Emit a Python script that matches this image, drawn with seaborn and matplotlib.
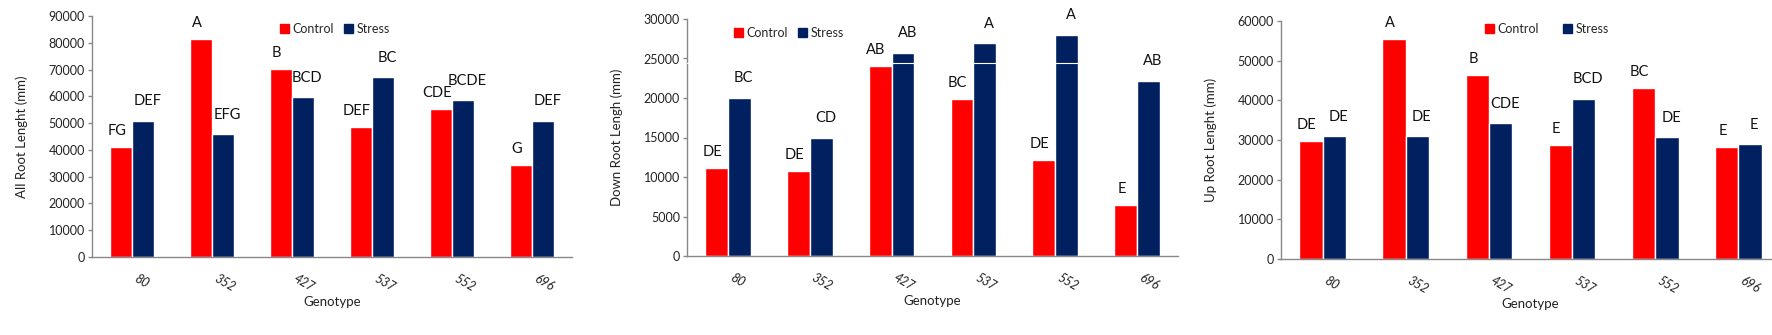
import pandas as pd
import seaborn as sns
import matplotlib.pyplot as plt
from matplotlib.patches import Patch

# genotypes and treatments
genotypes = ['80', '352', '427', '537', '552', '696']
treatments = ['Control', 'Stress']

# All root length (mm)
all_control = [41000, 81300, 70300, 48500, 55400, 34500]
all_stress = [50800, 45800, 59700, 67200, 58600, 50800]
all_let_control = ['FG', 'A', 'B', 'DEF', 'CDE', 'G']
all_let_stress = ['DEF', 'EFG', 'BCD', 'BC', 'BCDE', 'DEF']

# Down root length (mm)
down_control = [11100, 10800, 24000, 19900, 12200, 6400]
down_stress = [20000, 15000, 25700, 26900, 28000, 22200]
down_let_control = ['DE', 'DE', 'AB', 'BC', 'DE', 'E']
down_let_stress = ['BC', 'CD', 'AB', 'A', 'A', 'AB']

# Up root length (mm)
up_control = [29800, 55500, 46400, 28700, 43100, 28200]
up_stress = [30900, 30900, 34200, 40400, 30700, 28900]
up_let_control = ['DE', 'A', 'B', 'E', 'BC', 'E']
up_let_stress = ['DE', 'DE', 'CDE', 'BCD', 'DE', 'E']

colors = {'Control': '#FF0000', 'Stress': '#002060'}

sns.set_style('white')
plt.rcParams['font.family'] = ['Lato', 'DejaVu Sans']

W, H = 1772, 335
fig = plt.figure(figsize=(W / 100, H / 100), dpi=100)

# letter offsets (points): control labels sit a bit left/lower, stress a bit right/higher
label_shift = {'Control': (-3, 6.5), 'Stress': (3, 9)}


def panel(box, control, stress, let_c, let_s, ylabel, ymax, ystep, leg_xy, colspace):
    left, top, right, zero = box
    ax = fig.add_axes([left / W, (H - zero) / H, (right - left) / W, (zero - top) / H])
    df = pd.DataFrame({
        'Genotype': genotypes * 2,
        'Treatment': ['Control'] * len(genotypes) + ['Stress'] * len(genotypes),
        'Value': list(control) + list(stress),
    })
    sns.barplot(data=df, x='Genotype', y='Value', hue='Treatment', hue_order=treatments,
                palette=colors, width=0.56, saturation=1, errorbar=None, ax=ax, zorder=2)
    for cont, labs, tr in zip(ax.containers, [let_c, let_s], treatments):
        for bar, lab in zip(cont.patches, labs):
            ax.annotate(lab, (bar.get_x() + bar.get_width() / 2, bar.get_height()),
                        xytext=label_shift[tr], textcoords='offset points',
                        ha='center', va='bottom', fontsize=10.5, color='#111111', zorder=6)
    ax.set_xlim(-0.5, 5.5)
    ax.set_ylim(0, ymax)
    ax.set_yticks(range(0, ymax + 1, ystep))
    ax.set_ylabel(ylabel, fontsize=9.5, color='#222222')
    ax.yaxis.set_label_coords(-64 / (right - left), 0.5)
    ax.set_xlabel('Genotype', fontsize=9.5, color='#222222', labelpad=2)
    for s in ['top', 'right']:
        ax.spines[s].set_visible(False)
    for s in ['left', 'bottom']:
        ax.spines[s].set_color('#888888')
        ax.spines[s].set_linewidth(1)
    ax.tick_params(axis='y', left=True, length=3, width=1, color='#888888',
                   labelsize=9, labelcolor='#222222', pad=2)
    ax.tick_params(axis='x', bottom=False, length=0, labelsize=9, labelcolor='#222222', pad=11)
    for t in ax.get_xticklabels():
        t.set_rotation(-30)
        t.set_ha('left')
        t.set_style('italic')
    handles = [Patch(color=colors[t]) for t in treatments]
    ax.legend(handles, treatments, loc='center left', bbox_to_anchor=leg_xy, ncol=2,
              frameon=False, handlelength=0.7, handleheight=0.7, handletextpad=0.3,
              columnspacing=colspace, borderpad=0, borderaxespad=0, fontsize=9)
    return ax


panel((92, 16, 572, 257), all_control, all_stress, all_let_control, all_let_stress,
      'All Root Lenght (mm)', 90000, 10000, (0.392, 0.948), 0.8)
ax2 = panel((687, 19, 1178, 256), down_control, down_stress, down_let_control, down_let_stress,
            'Down Root Lengh (mm)', 30000, 5000, (0.096, 0.941), 0.8)
# thin white streak across the tallest stress bars
ax2.axhline(24400, color='white', lw=0.8, zorder=4)
panel((1281, 21, 1780, 259), up_control, up_stress, up_let_control, up_let_stress,
      'Up Root Lenght (mm)', 60000, 10000, (0.409, 0.966), 1.9)

fig.savefig('out.png', dpi=100)
